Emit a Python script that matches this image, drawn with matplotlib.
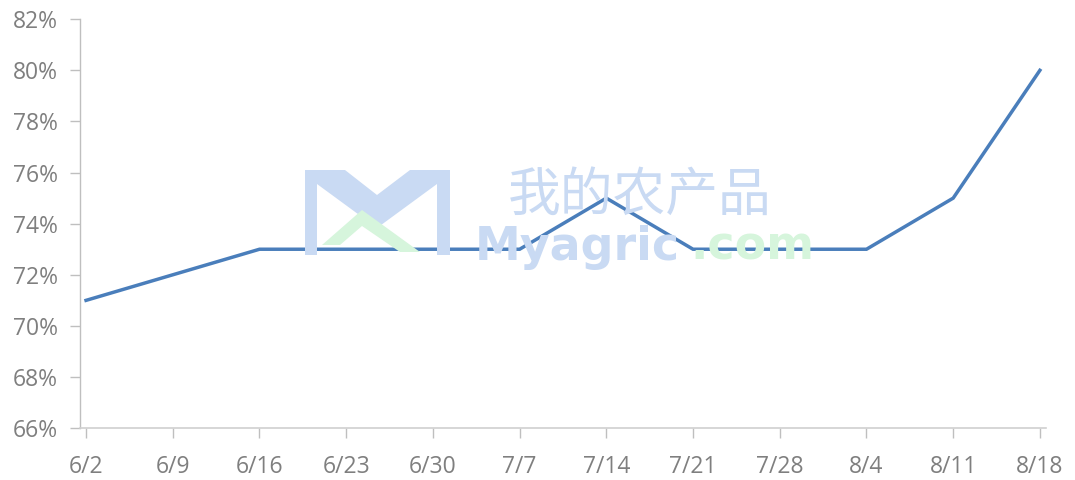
import matplotlib.pyplot as plt
from matplotlib.patches import Polygon

dates = ['6/2', '6/9', '6/16', '6/23', '6/30', '7/7', '7/14',
         '7/21', '7/28', '8/4', '8/11', '8/18']
rate = [71, 72, 73, 73, 73, 73, 75, 73, 73, 73, 75, 80]
yticks = [66, 68, 70, 72, 74, 76, 78, 80, 82]

plt.rcParams['font.family'] = ['Open Sans', 'DejaVu Sans']

W, H = 1075, 480
fig = plt.figure(figsize=(W / 100, H / 100), dpi=100)
ax = fig.add_axes([0.0744, 0.108, 0.8986, 0.852])


def px(pts):
    # image pixel coords (top-left origin) -> display coords
    return [(a, H - b) for a, b in pts]


# watermark (behind the line)
blue = '#c9daf3'
green = '#d6f5dc'
fig.patches.append(Polygon(
    px([(305, 170), (345, 170), (377, 195), (410, 170), (450, 170),
        (450, 255), (437, 255), (437, 184), (377, 228), (317, 184),
        (317, 255), (305, 255)]),
    closed=True, transform=None, facecolor=blue, edgecolor='none', zorder=0))
fig.patches.append(Polygon(
    px([(322, 245), (362, 210), (420, 252), (400, 252), (362, 226), (340, 245)]),
    closed=True, transform=None, facecolor=green, edgecolor='none', zorder=0))
fig.text(640 / W, 1 - 195 / H, '我的农产品', color=blue, fontsize=38,
         family=['Noto Sans CJK SC'], ha='center', va='center', zorder=0)
fig.text(475 / W, 1 - 247 / H, 'Myagric', color=blue, fontsize=33,
         fontweight='bold', family=['DejaVu Sans'], ha='left', va='center', zorder=0)
fig.text(690 / W, 1 - 247 / H, '.com', color=green, fontsize=33,
         fontweight='bold', family=['DejaVu Sans'], ha='left', va='center', zorder=0)
ax.patch.set_alpha(0)

x = list(range(len(dates)))
ax.plot(x, rate, color='#4a7ebb', linewidth=2.5, solid_joinstyle='miter', zorder=3)

ax.set_xlim(-0.07, len(dates) - 1 + 0.07)
ax.set_ylim(66, 82)
ax.set_xticks(x)
ax.set_xticklabels(dates)
ax.set_yticks(yticks)
ax.set_yticklabels([f'{v}%' for v in yticks])

for s in ['top', 'right']:
    ax.spines[s].set_visible(False)
ax.spines['left'].set_color('#bfbfbf')
ax.spines['bottom'].set_color('#d0d0d0')
ax.spines['left'].set_linewidth(1)
ax.spines['bottom'].set_linewidth(1.2)
ax.tick_params(axis='both', direction='out', length=7, width=1,
               color='#bfbfbf', labelcolor='#7f7f7f', labelsize=16.5)
ax.tick_params(axis='x', pad=12)
ax.tick_params(axis='y', pad=9)

fig.savefig('out.png', dpi=100)
